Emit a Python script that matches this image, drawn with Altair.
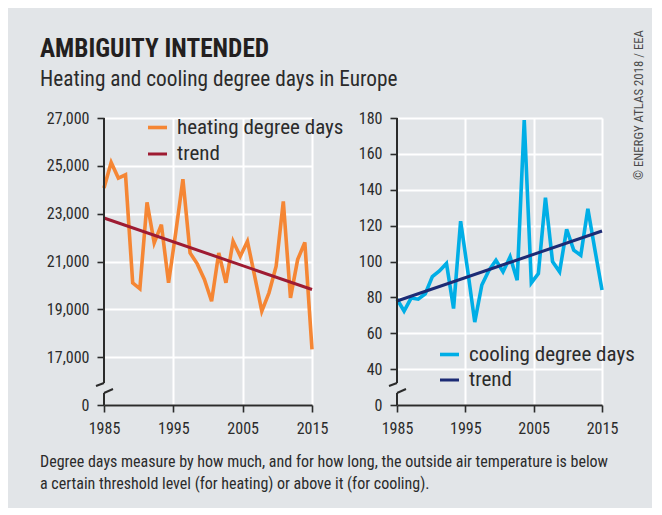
import altair as alt
import pandas as pd

FONT = "Roboto Condensed, Noto Sans Condensed, Liberation Sans Narrow, DejaVu Sans Condensed, sans-serif"
BG = "#e2e5e8"
INK = "#2b2b2b"

TITLE = "AMBIGUITY INTENDED"
SUBTITLE = "Heating and cooling degree days in Europe"
NOTE_1 = "Degree days measure by how much, and for how long, the outside air temperature is below"
NOTE_2 = "a certain threshold level (for heating) or above it (for cooling)."
CREDIT = "\u00a9 ENERGY ATLAS 2018 / EEA"

HEATING_NAME = "heating degree days"
COOLING_NAME = "cooling degree days"
TREND_NAME = "trend"

# annual values, 1985-2014 (30 years, drawn across the 1985-2015 axis)
years = list(range(1985, 2015))
heating = [24070, 25140, 24490, 24625, 20110, 19860, 23470, 21780, 22540, 20110,
           22200, 24440, 21360, 20900, 20250, 19340, 21360, 20110, 21845, 21220,
           21845, 20400, 18925, 19690, 20800, 23510, 19480, 21080, 21800, 17330]
cooling = [79, 72.4, 79.6, 79, 82, 91.6, 94.7, 98.9, 73.8, 122.5,
           95, 66.2, 86.9, 95, 100.7, 94.3, 102.6, 89.6, 178.9, 88.1,
           93.3, 135.6, 100, 94.3, 118, 106.3, 103.5, 129.4, 106.5, 84.1]
trend_years = [1985, 2014]
heating_trend = [22820, 19830]
cooling_trend = [78, 117]

year_labels = [1985, 1995, 2005, 2015]
heating_ticks = [15000, 17000, 19000, 21000, 23000, 25000, 27000]  # bottom tick is the broken-axis "0"
cooling_ticks = [20, 40, 60, 80, 100, 120, 140, 160, 180]          # bottom tick is the broken-axis "0"

H = 287
W_L = 208
W_R = 205

# axis positions of the labels on the stretched 30-value axis
x_pos = [1985 + (y - 1985) * 29 / 30 for y in year_labels]


def one_row(text):
    return pd.DataFrame({"t": [text]})


def text_layer(text, x, y, size, weight="normal", color=INK, **kw):
    return alt.Chart(one_row(text)).mark_text(
        align=kw.pop("align", "left"), baseline=kw.pop("baseline", "alphabetic"),
        font=FONT, fontSize=size, fontWeight=weight, color=color, **kw
    ).encode(text="t:N", x=alt.value(x), y=alt.value(y))


def axis_break(height):
    rule = lambda **enc: alt.Chart(one_row("")).mark_rule(color=INK, strokeWidth=2).encode(**enc)
    return [
        rule(x=alt.value(0), y=alt.value(0), y2=alt.value(265)),
        rule(x=alt.value(0), x2=alt.value(-8), y=alt.value(265), y2=alt.value(268)),
        rule(x=alt.value(0), y=alt.value(275), y2=alt.value(height)),
        rule(x=alt.value(0), x2=alt.value(9), y=alt.value(275), y2=alt.value(271)),
    ]


def panel(values, trend, name, colors, y_domain, y_ticks, width, legend_x, legend_y, row_pad, extra):
    df = pd.DataFrame({
        "year": years + trend_years,
        "value": values + trend,
        "series": [name] * len(years) + [TREND_NAME] * len(trend_years),
    })
    lines = alt.Chart(df).mark_line().encode(
        x=alt.X("year:Q",
                scale=alt.Scale(domain=[1985, 2014], nice=False, zero=False),
                axis=alt.Axis(values=x_pos, title=None, labelFlush=False, labelPadding=8,
                              labelExpr="'' + round(1985 + (datum.value - 1985) * 30 / 29)",
                              gridOpacity=alt.condition("datum.value == 1985", alt.value(0), alt.value(1)))),
        y=alt.Y("value:Q",
                scale=alt.Scale(domain=y_domain, nice=False, zero=False),
                axis=alt.Axis(values=y_ticks, title=None, domain=False, labelPadding=8, labelFlush=False,
                              labelExpr=f"datum.value == {y_domain[0]} ? '0' : format(datum.value, ',')")),
        color=alt.Color("series:N",
                        scale=alt.Scale(domain=[name, TREND_NAME], range=colors),
                        legend=alt.Legend(orient="none", legendX=legend_x, legendY=legend_y, title=None,
                                          symbolType="stroke", symbolSize=361, symbolStrokeWidth=4.5,
                                          labelFont=FONT, labelFontSize=21, labelColor=INK, labelLimit=0,
                                          labelOffset=8, rowPadding=row_pad, padding=0)),
        strokeWidth=alt.StrokeWidth("series:N",
                                    scale=alt.Scale(domain=[name, TREND_NAME], range=[3.6, 3.0]),
                                    legend=None),
    )
    return alt.layer(lines, *axis_break(H), *extra).properties(width=width, height=H)


left = panel(heating, heating_trend, HEATING_NAME, ["#f58634", "#9e1b32"],
             [15000, 27000], heating_ticks, W_L, 42, -2, 5,
             [text_layer(TITLE, -64, -61, 25.3, "bold", "#231f20"),
              text_layer(SUBTITLE, -64, -32, 21.3),
              text_layer(NOTE_1, -64, 349, 16),
              text_layer(NOTE_2, -64, 371, 16)])

right = panel(cooling, cooling_trend, COOLING_NAME, ["#00aee6", "#1c2b75"],
              [20, 180], cooling_ticks, W_R, 41, 225, 4,
              [text_layer(CREDIT, 249, -88, 12.8, color="#4a4a4a",
                          angle=270, align="right", baseline="bottom")])

chart = alt.hconcat(left, right, spacing=85, bounds="flush").resolve_scale(
    x="independent", y="independent", color="independent", strokeWidth="independent"
).properties(
    background=BG,
    padding={"left": 32, "top": 22, "right": 6, "bottom": 16},
).configure_view(
    stroke=None
).configure_axis(
    labelFont=FONT, labelFontSize=16, labelColor=INK,
    domainColor=INK, domainWidth=2, tickColor=INK, tickWidth=1.6, tickSize=7,
    gridColor="white", gridWidth=2, labelPadding=5,
)

chart.save("out.html", embed_options={"renderer": "svg", "actions": False})
